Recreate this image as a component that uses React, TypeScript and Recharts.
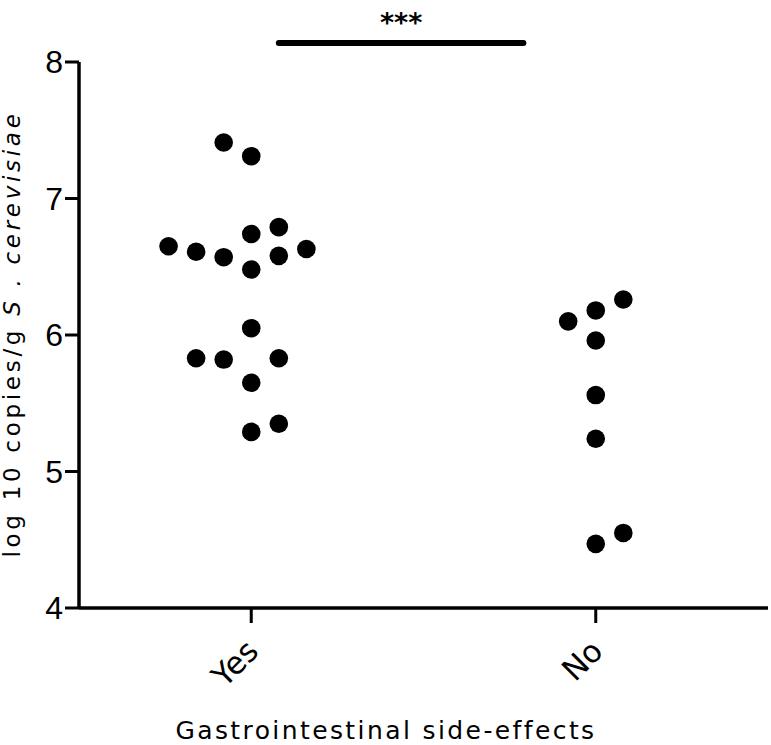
import React from 'react';
import { ScatterChart, Scatter, XAxis, YAxis, ReferenceLine } from 'recharts';

// groups on the x axis (centre of each column)
const groups = ['Yes', 'No'];
const groupCentres = [0.5, 1.5];
const yTicks = [4, 5, 6, 7, 8];

// log10 copies/g, with the column slot each dot sits in (beeswarm-like offset)
const yesValues = [7.41, 7.31, 6.65, 6.61, 6.57, 6.74, 6.79, 6.58, 6.63, 6.48, 6.05, 5.83, 5.82, 5.83, 5.65, 5.29, 5.35];
const yesSlots = [-1, 0, -3, -2, -1, 0, 1, 1, 2, 0, 0, -2, -1, 1, 0, 0, 1];
const noValues = [6.1, 6.18, 6.26, 5.96, 5.56, 5.24, 4.47, 4.55];
const noSlots = [-1, 0, 1, 0, 0, 0, 0, 1];

// significance bracket between the groups
const sigFrom = 0.58;
const sigTo = 1.29;
const sigLevel = 8.14;
const sigText = '***';

const SLOT = 0.08;

const toPoints = (values: number[], slots: number[], centre: number) =>
    values.map((v, i) => ({ x: centre + slots[i] * SLOT, y: v }));

const yesData = toPoints(yesValues, yesSlots, groupCentres[0]);
const noData = toPoints(noValues, noSlots, groupCentres[1]);

const FONT = '"DejaVu Sans", Verdana, sans-serif';

const Dot = (props: any) => <circle cx={props.cx} cy={props.cy} r={9.3} fill="#000" />;

const XTick = (props: any) => {
    const { x, payload } = props;
    const idx = groupCentres.indexOf(payload.value);
    const ax = x + 9;
    const ay = 653;
    return (
        <text
            x={ax}
            y={ay}
            transform={`rotate(-45, ${ax}, ${ay})`}
            textAnchor="end"
            fontFamily={FONT}
            fontSize={31}
            fill="#000"
        >
            {groups[idx]}
        </text>
    );
};

const XLabel = () => (
    <text x={386} y={739} textAnchor="middle" fontFamily={FONT} fontSize={25} letterSpacing={2.4} fill="#000">
        Gastrointestinal side-effects
    </text>
);

const YLabel = () => {
    const cy = 334;
    const cx = 20;
    return (
        <text
            x={cx}
            y={cy}
            transform={`rotate(-90, ${cx}, ${cy})`}
            textAnchor="middle"
            fontFamily={FONT}
            fontSize={23}
            letterSpacing={3.7}
            fill="#000"
        >
            log 10 copies/g <tspan fontStyle="italic">S . cerevisiae</tspan>
        </text>
    );
};

const SigLabel = (props: any) => {
    const vb = props.viewBox || {};
    const cx = (vb.x ?? 0) + (vb.width ?? 0) / 2;
    return (
        <text x={cx} y={(vb.y ?? 0) - 11} textAnchor="middle" fontFamily={FONT} fontSize={27} fontWeight="bold" fill="#000">
            {sigText}
        </text>
    );
};

const App: React.FC = () => {
    return (
        <div style={{ position: 'absolute', left: 0, top: 0, background: '#fff' }}>
            <ScatterChart
                width={771}
                height={745}
                margin={{ top: 62, right: 3, bottom: 0, left: 0 }}
            >
                <XAxis
                    type="number"
                    dataKey="x"
                    domain={[0, 2]}
                    ticks={groupCentres}
                    interval={0}
                    axisLine={{ stroke: '#000', strokeWidth: 3.5 }}
                    tickLine={{ stroke: '#000', strokeWidth: 3 }}
                    tickSize={15}
                    tick={<XTick />}
                    height={137}
                    label={{ content: <XLabel /> }}
                />
                <YAxis
                    type="number"
                    dataKey="y"
                    domain={[4, 8]}
                    ticks={yTicks}
                    interval={0}
                    width={79}
                    axisLine={{ stroke: '#000', strokeWidth: 3.5 }}
                    tickLine={{ stroke: '#000', strokeWidth: 3 }}
                    tickSize={14}
                    tickMargin={2}
                    tick={{ fill: '#000', fontSize: 32, fontFamily: '"Liberation Sans", Arial, sans-serif' }}
                    label={{ content: <YLabel /> }}
                />
                <ReferenceLine
                    segment={[{ x: sigFrom, y: sigLevel }, { x: sigTo, y: sigLevel }]}
                    stroke="#000"
                    strokeWidth={6}
                    strokeLinecap="round"
                    ifOverflow="visible"
                    label={{ content: <SigLabel /> }}
                />
                <Scatter data={yesData} fill="#000" shape={<Dot />} isAnimationActive={false} />
                <Scatter data={noData} fill="#000" shape={<Dot />} isAnimationActive={false} />
            </ScatterChart>
        </div>
    );
};

export default App;
